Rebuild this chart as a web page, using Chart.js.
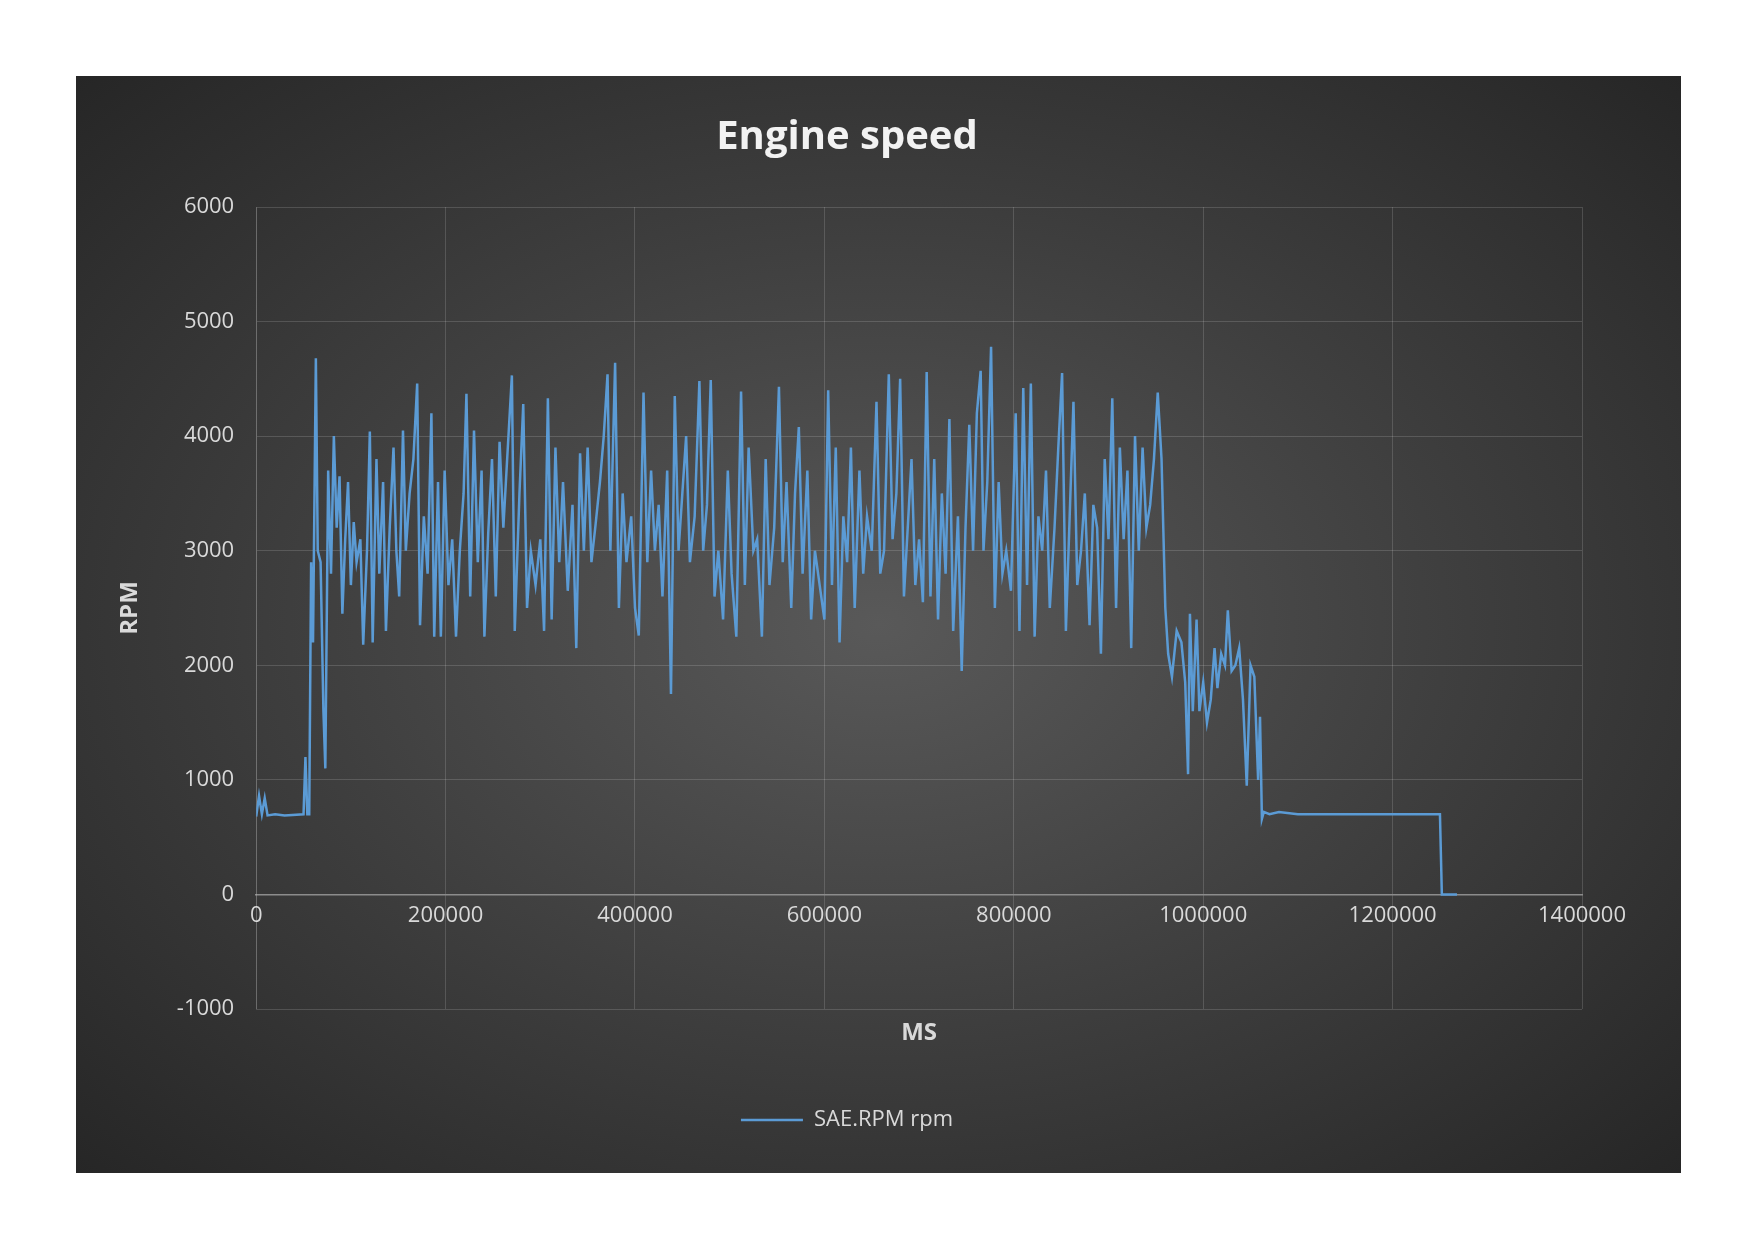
<!DOCTYPE html>
<html>
<head>
<meta charset="utf-8">
<script src="https://cdn.jsdelivr.net/npm/chart.js@4"></script>
<style>
  body { margin: 0; background: #fff; width: 1754px; height: 1240px; }
  #box {
    position: absolute; left: 76px; top: 76px; width: 1605px; height: 1097px;
    background: radial-gradient(ellipse at 50% 50%, #595959 0%, #3f3f3f 50%, #262626 100%);
  }
</style>
</head>
<body>
<div id="box"><canvas id="chart" width="1605" height="1097"></canvas></div>
<script>
// Engine speed trace
const msTimes = [0,3000,6000,9000,12000,20000,30000,50000,52000,54000,56000,58000,60000,63000,65000,68000,71000,73000,76000,79000,82000,85000,88000,91000,94000,97000,100000,103000,106000,110000,113000,117000,120000,123000,127000,130000,134000,137000,141000,145000,148000,151000,155000,158000,162000,166000,170000,173000,177000,181000,185000,188000,192000,195000,199000,203000,207000,211000,215000,219000,222000,226000,230000,234000,238000,241000,245000,249000,253000,257000,261000,265000,270000,273000,278000,282000,286000,290000,295000,300000,304000,308000,312000,316000,320000,324000,329000,334000,338000,342000,346000,350000,354000,358000,363000,367000,371000,374000,379000,383000,387000,391000,396000,400000,404000,409000,413000,417000,421000,425000,429000,434000,438000,442000,446000,450000,454000,458000,463000,468000,472000,476000,480000,484000,488000,493000,498000,502000,507000,512000,516000,520000,525000,529000,534000,538000,542000,547000,552000,556000,560000,565000,569000,573000,577000,582000,586000,590000,595000,600000,604000,608000,612000,616000,620000,624000,628000,632000,637000,641000,645000,650000,655000,659000,663000,668000,672000,676000,680000,684000,688000,692000,696000,700000,704000,708000,712000,716000,720000,724000,728000,732000,736000,741000,745000,749000,753000,757000,761000,765000,768000,772000,776000,780000,784000,788000,792000,797000,802000,806000,810000,814000,818000,822000,826000,830000,834000,838000,843000,847000,851000,855000,859000,863000,867000,871000,875000,880000,884000,888000,892000,896000,900000,904000,908000,912000,916000,920000,924000,928000,932000,936000,940000,944000,948000,952000,956000,960000,963000,967000,972000,977000,981000,984000,986000,989000,993000,996000,1000000,1004000,1008000,1012000,1015000,1019000,1023000,1026000,1030000,1034000,1038000,1042000,1046000,1050000,1054000,1058000,1060000,1062000,1064000,1070000,1080000,1100000,1200000,1250000,1252000,1268000];
const rpmValues = [680,860,700,840,690,700,690,700,1200,700,700,2900,2200,4680,3000,2900,1600,1100,3700,2800,4000,3200,3650,2450,3100,3600,2700,3250,2900,3100,2180,3000,4040,2200,3800,2800,3600,2300,3200,3900,3000,2600,4050,3000,3500,3800,4460,2350,3300,2800,4200,2250,3600,2250,3700,2700,3100,2250,3000,3500,4370,2600,4050,2900,3700,2250,3150,3800,2600,3950,3200,3800,4530,2300,3500,4280,2500,3000,2700,3100,2300,4330,2400,3900,2900,3600,2650,3400,2150,3850,3000,3900,2900,3200,3600,4000,4540,3000,4640,2500,3500,2900,3300,2500,2260,4380,2900,3700,3000,3400,2600,3700,1750,4350,3000,3500,4000,2900,3300,4480,3000,3400,4490,2600,3000,2400,3700,2800,2250,4390,2700,3900,3000,3100,2250,3800,2700,3200,4430,2900,3600,2500,3500,4080,2800,3700,2400,3000,2700,2400,4400,2700,3900,2200,3300,2900,3900,2500,3700,2800,3300,3000,4300,2800,3000,4540,3100,3500,4500,2600,3200,3800,2700,3100,2550,4560,2600,3800,2400,3500,2800,4150,2300,3300,1950,3200,4100,3000,4200,4570,3000,3600,4780,2500,3600,2800,3000,2650,4200,2300,4420,2700,4460,2250,3300,3000,3700,2500,3200,3900,4550,2300,3300,4300,2700,3000,3500,2350,3400,3200,2100,3800,3100,4330,2500,3900,3100,3700,2150,4000,3000,3900,3200,3400,3800,4380,3800,2500,2100,1900,2300,2200,1850,1050,2450,1600,2400,1600,1850,1500,1700,2150,1800,2100,2000,2480,1950,2000,2150,1700,950,2000,1900,1000,1550,660,720,700,720,700,700,700,0,0];
const xTicks = [0,200000,400000,600000,800000,1000000,1200000,1400000];
const yTicks = [-1000,0,1000,2000,3000,4000,5000,6000];

const points = msTimes.map((t, i) => ({ x: t, y: rpmValues[i] }));

// draw the "MS" axis title ourselves, since the x axis sits on the zero line
const msTitle = {
  id: 'msTitle',
  afterDraw(c) {
    const ctx = c.ctx, a = c.chartArea;
    ctx.save();
    ctx.font = 'bold 24px "Open Sans"';
    ctx.fillStyle = '#d9d9d9';
    ctx.textAlign = 'center';
    ctx.textBaseline = 'middle';
    ctx.fillText('MS', (a.left + a.right) / 2, a.bottom + 24);
    ctx.restore();
  }
};

new Chart(document.getElementById('chart'), {
  type: 'line',
  data: {
    datasets: [{
      label: 'SAE.RPM rpm',
      data: points,
      borderColor: '#5b9bd5',
      backgroundColor: '#5b9bd5',
      borderWidth: 2.5,
      pointRadius: 0,
      tension: 0
    }]
  },
  options: {
    responsive: false,
    animation: false,
    layout: { padding: { top: 10, right: 99, bottom: 32, left: 36 } },
    plugins: {
      title: {
        display: true, text: 'Engine speed', color: '#f2f2f2',
        font: { family: 'Open Sans', size: 40, weight: 'bold' },
        padding: { top: 28, bottom: 45 }
      },
      legend: {
        position: 'bottom',
        labels: {
          color: '#d9d9d9', font: { family: 'Open Sans', size: 22 },
          boxWidth: 62, boxHeight: 0, padding: 20
        }
      },
      tooltip: { enabled: false }
    },
    scales: {
      x: {
        type: 'linear', min: 0, max: 1400000,
        position: { y: 0 },
        afterBuildTicks: s => { s.ticks = xTicks.map(v => ({ value: v })); },
        ticks: { color: '#d9d9d9', font: { family: 'Open Sans', size: 22 }, callback: v => String(v), maxRotation: 0, padding: 8 },
        grid: { color: 'rgba(255,255,255,0.15)', drawTicks: false },
        border: { color: '#8c8c8c', width: 1.5 }
      },
      // empty spacer axis: leaves room for the "MS" title below the plot
      x2: {
        type: 'linear', position: 'bottom',
        afterFit: s => { s.height = 80; },
        ticks: { display: false },
        grid: { display: false },
        border: { display: false }
      },
      y: {
        min: -1000, max: 6000,
        afterBuildTicks: s => { s.ticks = yTicks.map(v => ({ value: v })); },
        ticks: { color: '#d9d9d9', font: { family: 'Open Sans', size: 22 }, padding: 22, callback: v => String(v) },
        grid: { color: 'rgba(255,255,255,0.15)', drawTicks: false },
        border: { color: 'rgba(255,255,255,0.15)' },
        title: { display: true, text: 'RPM', color: '#d9d9d9', font: { family: 'Open Sans', size: 24, weight: 'bold' }, padding: { bottom: 10 } }
      }
    }
  },
  plugins: [msTitle]
});
</script>
</body>
</html>
